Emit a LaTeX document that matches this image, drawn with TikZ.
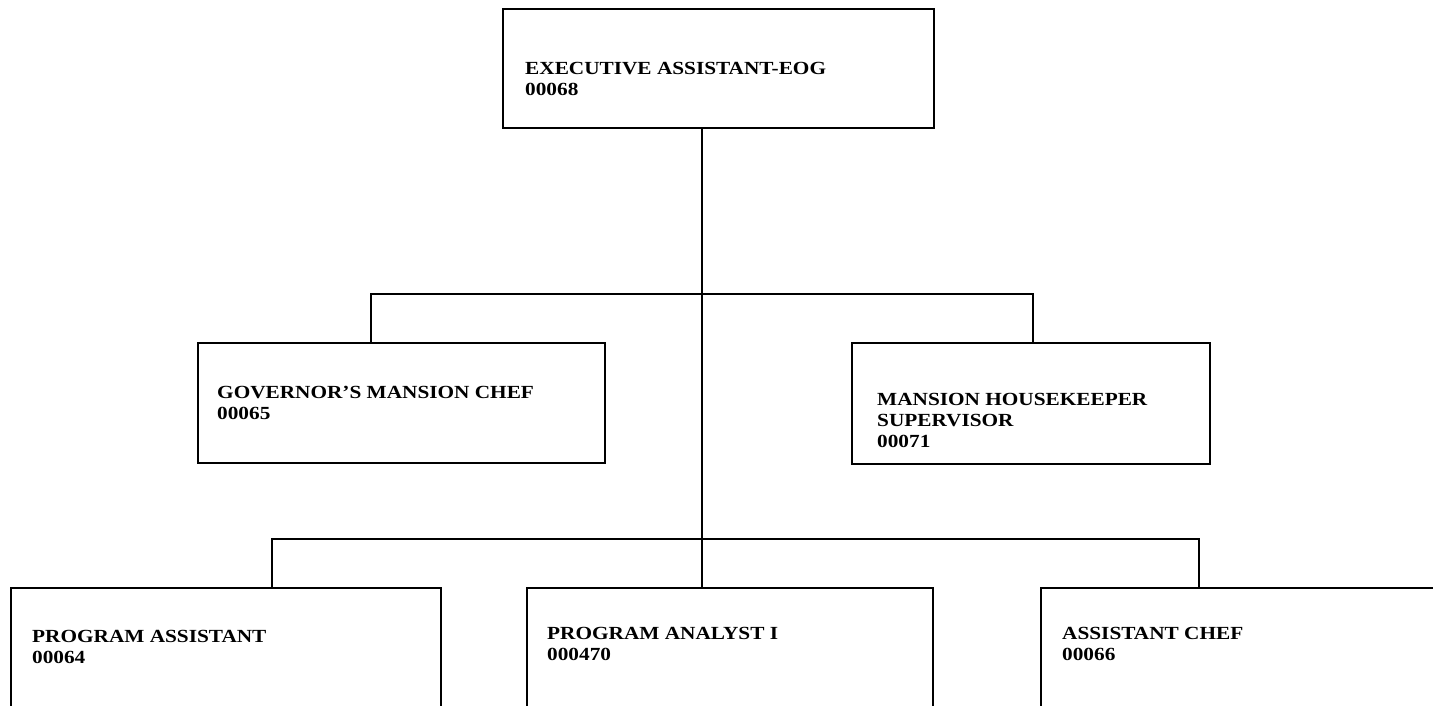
\documentclass[tikz,border=0pt]{standalone}
\usepackage{fontspec}
\setmainfont{Liberation Serif}[FakeStretch=1.15]
\begin{document}
\begin{tikzpicture}[x=1pt,y=-1pt,
  orgbox/.style={draw,line width=2pt,rectangle,anchor=north west,inner sep=0pt},
  link/.style={line width=1.3pt},
  caption/.style={anchor=north west,align=left,inner sep=0pt,
    font=\fontsize{18.5}{21}\selectfont\bfseries}]
\useasboundingbox (0,0) rectangle (1433,705);
\clip (0,0) rectangle (1433,705);

% position boxes
\node[orgbox,minimum width=431pt,minimum height=119pt] (eog) at (502,8) {};
\node[orgbox,minimum width=407pt,minimum height=120pt] (gov) at (197,342) {};
\node[orgbox,minimum width=358pt,minimum height=121pt] (mh) at (851,342) {};
\node[orgbox,minimum width=430pt,minimum height=130pt] (pa) at (10,587) {};
\node[orgbox,minimum width=406pt,minimum height=130pt] (an) at (526,587) {};
\node[orgbox,minimum width=420pt,minimum height=130pt] (ch) at (1040,587) {};

% titles and position numbers
\node[caption] (eogt) at (525,62) {EXECUTIVE ASSISTANT-EOG\\00068};
\node[caption] (govt) at (217,386) {GOVERNOR’S MANSION CHEF\\00065};
\node[caption] (mht) at (877,393) {MANSION HOUSEKEEPER\\SUPERVISOR\\00071};
\node[caption] (pat) at (32,630) {PROGRAM ASSISTANT\\00064};
\node[caption] (ant) at (547,627) {PROGRAM ANALYST I\\000470};
\node[caption] (cht) at (1062,627) {ASSISTANT CHEF\\00066};

% reporting lines
\coordinate (trunk) at (702,0);
\coordinate (jg) at (371,294);
\coordinate (jm) at (1033,294);
\coordinate (jp) at (272,539);
\coordinate (jc) at (1199,539);
\draw[link] (eog.south -| trunk) -- (an.north -| trunk);
\draw[link] (gov.north -| jg) -- (jg) -- (jm) -- (mh.north -| jm);
\draw[link] (pa.north -| jp) -- (jp) -- (jc) -- (ch.north -| jc);
\end{tikzpicture}
\end{document}
